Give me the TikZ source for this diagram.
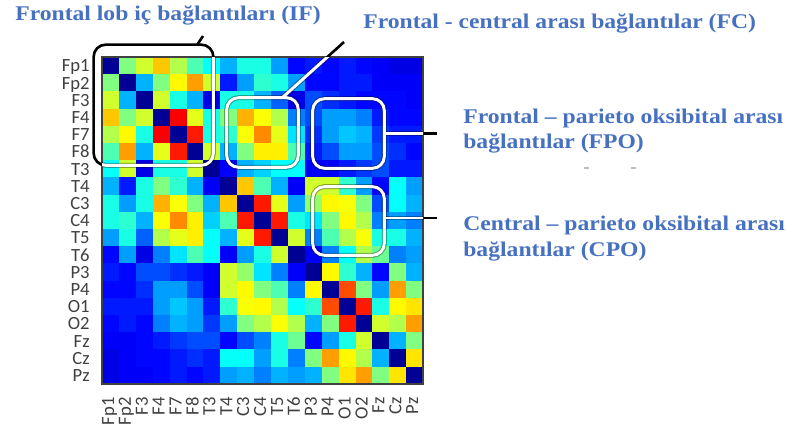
\documentclass[tikz,border=0pt]{standalone}
\usepackage{fontspec}
\usepackage{tikz}
\usetikzlibrary{calc}
\newfontfamily\capfont{Liberation Serif}[FakeStretch=1.13]
\newfontfamily\chfont{Carlito}
\definecolor{capblue}{RGB}{70,112,192}
\definecolor{chgray}{RGB}{64,64,64}
\tikzset{
  caption/.style={font=\capfont\bfseries\fontsize{11.9pt}{14pt}\selectfont,text=capblue,inner sep=0pt,anchor=base west},
  chlabel/.style={font=\chfont\fontsize{10.6pt}{11pt}\selectfont,text=chgray,inner sep=0pt,anchor=base east},
  hlbox/.style={inner sep=0pt,minimum width=1.42cm,minimum height=1.38cm}
}
\newcommand\hlmarks{%
  \foreach \b in {ifbox,fcbox,fpobox,cpobox}
    \draw[rounded corners=2.4mm] (\b.north west) rectangle (\b.south east);
  \draw ($(ifbox.north east)+(-16,0)$) -- (iftip);
  \draw ($(fcbox.north east)+(-16,0)$) -- (fctip);
  \draw (fpobox.east) -- (fpotip);
  \draw (cpobox.east |- cpotip) -- (cpotip);
}

\begin{document}
\begin{tikzpicture}[x=0.02cm,y=-0.02cm]
\useasboundingbox (0,0) rectangle (787,433);
\foreach \row [count=\i from 0] in {
 {0.02,0.50,0.58,0.68,0.55,0.45,0.38,0.30,0.40,0.40,0.28,0.13,0.15,0.13,0.15,0.13,0.12,0.10,0.10},
 {0.02,0.30,0.50,0.63,0.72,0.58,0.15,0.28,0.42,0.40,0.28,0.13,0.13,0.15,0.15,0.12,0.12,0.12},
 {0.02,0.58,0.40,0.30,0.10,0.40,0.40,0.30,0.22,0.10,0.20,0.17,0.15,0.13,0.13,0.13,0.12},
 {0.02,0.88,0.60,0.40,0.50,0.70,0.62,0.55,0.25,0.20,0.28,0.28,0.25,0.15,0.13,0.13},
 {0.02,0.85,0.40,0.42,0.62,0.74,0.60,0.35,0.17,0.28,0.32,0.30,0.18,0.15,0.15},
 {0.02,0.58,0.30,0.50,0.64,0.64,0.45,0.15,0.20,0.28,0.28,0.20,0.17,0.13},
 {0.02,0.12,0.30,0.33,0.38,0.38,0.12,0.12,0.15,0.18,0.20,0.15,0.15},
 {0.02,0.68,0.45,0.30,0.12,0.58,0.58,0.42,0.28,0.13,0.38,0.28},
 {0.02,0.85,0.60,0.28,0.52,0.63,0.62,0.50,0.20,0.38,0.30},
 {0.02,0.85,0.40,0.35,0.50,0.63,0.55,0.25,0.28,0.25},
 {0.02,0.58,0.25,0.45,0.55,0.62,0.40,0.40,0.30},
 {0.02,0.12,0.25,0.38,0.55,0.48,0.25,0.28},
 {0.02,0.63,0.42,0.30,0.13,0.50,0.30},
 {0.02,0.80,0.50,0.28,0.72,0.50},
 {0.02,0.85,0.40,0.63,0.65},
 {0.02,0.58,0.55,0.72},
 {0.02,0.30,0.50},
 {0.02,0.65},
 {0.02}}{
  \foreach \v [count=\k from 0] in \row {
    \pgfmathtruncatemacro\j{\i+\k}
    \pgfmathsetmacro\cellr{max(0,min(1,min(4*\v-1.5,4.5-4*\v)))}
    \pgfmathsetmacro\cellg{max(0,min(1,min(4*\v-0.5,3.5-4*\v)))}
    \pgfmathsetmacro\cellb{max(0,min(1,min(4*\v+0.5,2.5-4*\v)))}
    \definecolor{cellc}{rgb}{\cellr,\cellg,\cellb}
    \fill[cellc] (102+16.9*\j,57+17.2*\i) rectangle ++(17.2,17.5);
    \fill[cellc] (102+16.9*\i,57+17.2*\j) rectangle ++(17.2,17.5);
  }
}
\coordinate (hmtl) at (102,57);
\coordinate (hmbr) at (423,384);
\draw[chgray,line width=0.6pt] (hmtl) rectangle (hmbr);
\foreach \lab [count=\n from 0] in {Fp1,Fp2,F3,F4,F7,F8,T3,T4,C3,C4,T5,T6,P3,P4,O1,O2,Fz,Cz,Pz}{
  \node[chlabel] (r\lab) at (90,71.8+17.2*\n) {\lab};
  \node[chlabel,rotate=90] (c\lab) at (114+16.9*\n,397) {\lab};
}
\node[hlbox,minimum width=2.38cm,minimum height=2.4cm] (ifbox) at (153.5,105) {};
\node[hlbox] (fcbox) at (262.5,132.5) {};
\node[hlbox] (fpobox) at (348.5,133.5) {};
\node[hlbox,minimum height=1.36cm] (cpobox) at (348.5,221) {};
\coordinate (iftip) at (203,36);
\coordinate (fctip) at (344,42);
\coordinate (fpotip) at (437,133.5);
\coordinate (cpotip) at (437,218);
\begin{scope}[black,line width=1.5pt]\hlmarks\end{scope}
\begin{scope}
\clip (hmtl) rectangle (hmbr);
\begin{scope}[black,opacity=.35,line width=2.8pt]\hlmarks\end{scope}
\begin{scope}[white,line width=1.7pt]\hlmarks\end{scope}
\end{scope}
\node[caption] (iftxt) at (15,20.7) {Frontal lob iç bağlantıları (IF)};
\node[caption] (fctxt) at (363,28) {Frontal - central arası bağlantılar (FC)};
\node[caption] (fpotxt) at (463,123.3) {Frontal – parieto oksibital arası};
\node[caption] (fpotxtb) at (463,148.3) {bağlantılar (FPO)};
\node[caption] (cpotxt) at (463,230) {Central – parieto oksibital arası};
\node[caption] (cpotxtb) at (463,256.5) {bağlantılar (CPO)};
\draw[gray!50,line width=0.8pt] (584,168) -- (589,168) (631,168) -- (636,168);
\end{tikzpicture}
\end{document}
